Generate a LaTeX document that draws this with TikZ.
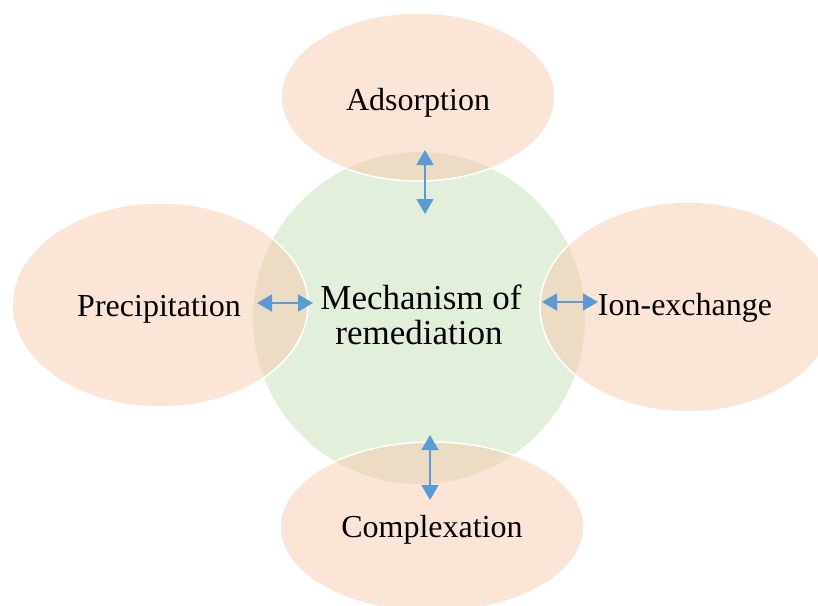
\documentclass[tikz,border=0pt]{standalone}
\usepackage{fontspec}
\setmainfont{Liberation Serif}
\usetikzlibrary{shapes.geometric,arrows.meta}
\definecolor{peach}{RGB}{247,203,173}
\definecolor{softgreen}{RGB}{226,239,218}
\definecolor{arrowblue}{RGB}{91,155,213}
\tikzset{
  petal/.style={ellipse, inner sep=0pt, fill=peach, fill opacity=0.5, draw=white, line width=1.5pt},
  hub/.style={circle, inner sep=0pt, fill=softgreen, draw=none, minimum size=332pt},
  petallabel/.style={anchor=base, inner sep=0pt, font=\fontsize{32}{35}\selectfont},
  hublabel/.style={anchor=base, inner sep=0pt, font=\fontsize{35}{35}\selectfont},
  biarrow/.style={draw=arrowblue, line width=1.6pt, {Triangle[length=15pt,width=17pt]}-{Triangle[length=15pt,width=17pt]}}
}
\begin{document}
\begin{tikzpicture}[x=1pt,y=-1pt]
\useasboundingbox (0,0) rectangle (818,605);
\clip (0,0) rectangle (818,605);
\node[hub] (c) at (419,318) {};
\node[petal, minimum width=274pt, minimum height=168pt] (t) at (418,97) {};
\node[petal, minimum width=296pt, minimum height=204pt] (l) at (160,305) {};
\node[petal, minimum width=296pt, minimum height=210pt] (r) at (688,307) {};
\node[petal, minimum width=304pt, minimum height=170pt] (b) at (432,527) {};
\node[hublabel] (c1) at (421,309) {Mechanism of};
\node[hublabel] (c2) at (419,344) {remediation};
\node[petallabel] (tl) at (418,110) {Adsorption};
\node[petallabel] (ll) at (159,316) {Precipitation};
\node[petallabel] (rl) at (685,315) {Ion-exchange};
\node[petallabel] (bl) at (432,537) {Complexation};
\coordinate (t1) at (425,150); \coordinate (t2) at (425,214);
\coordinate (l1) at (257,303); \coordinate (l2) at (313,303);
\coordinate (r1) at (542,302); \coordinate (r2) at (598,302);
\coordinate (b1) at (430,435); \coordinate (b2) at (430,500);
\draw[biarrow] (t1) -- (t2);
\draw[biarrow] (l1) -- (l2);
\draw[biarrow] (r1) -- (r2);
\draw[biarrow] (b1) -- (b2);
\end{tikzpicture}
\end{document}
